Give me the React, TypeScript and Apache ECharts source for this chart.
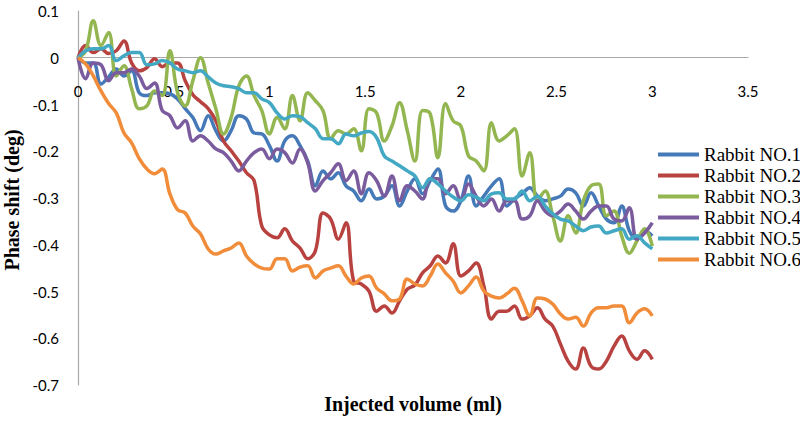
import React, { useEffect, useRef } from "react";
import * as echarts from "echarts";

const xValues = [
  0, 0.04, 0.08, 0.12, 0.16, 0.2, 0.24, 0.28, 0.32, 0.36,
  0.4, 0.44, 0.48, 0.52, 0.56, 0.6, 0.64, 0.68, 0.72, 0.76,
  0.8, 0.84, 0.88, 0.92, 0.96, 1.0, 1.04, 1.08, 1.12, 1.16,
  1.2, 1.24, 1.28, 1.32, 1.36, 1.4, 1.44, 1.48, 1.52, 1.56,
  1.6, 1.64, 1.68, 1.72, 1.76, 1.8, 1.84, 1.88, 1.92, 1.96,
  2.0, 2.04, 2.08, 2.12, 2.16, 2.2, 2.24, 2.28, 2.32, 2.36,
  2.4, 2.44, 2.48, 2.52, 2.56, 2.6, 2.64, 2.68, 2.72, 2.76,
  2.8, 2.84, 2.88, 2.92, 2.96, 3.0,
];

const rabbit1 = [
  0, -0.011, -0.011, -0.056, -0.041, -0.024, -0.039, -0.028, -0.075, -0.081,
  -0.075, -0.075, -0.077, -0.088, -0.109, -0.128, -0.156, -0.124, -0.156, -0.178,
  -0.156, -0.124, -0.131, -0.161, -0.163, -0.188, -0.221, -0.178, -0.167, -0.188,
  -0.221, -0.274, -0.242, -0.259, -0.246, -0.274, -0.285, -0.306, -0.281, -0.302,
  -0.296, -0.274, -0.317, -0.285, -0.259, -0.291, -0.263, -0.238, -0.317, -0.328,
  -0.306, -0.253, -0.317, -0.296, -0.274, -0.259, -0.317, -0.302, -0.291, -0.278,
  -0.296, -0.306, -0.302, -0.296, -0.281, -0.289, -0.317, -0.289, -0.317, -0.345,
  -0.353, -0.317, -0.37, -0.388, -0.37, -0.381,
];

const rabbit2 = [
  0, 0.026, 0.011, 0.019, 0.009, 0.015, 0.036, -0.011, -0.028, -0.021,
  -0.002, -0.019, -0.011, -0.011, -0.049, -0.079, -0.094, -0.109, -0.135, -0.178,
  -0.199, -0.221, -0.246, -0.263, -0.36, -0.379, -0.385, -0.366, -0.392, -0.407,
  -0.43, -0.413, -0.332, -0.345, -0.388, -0.353, -0.478, -0.484, -0.499, -0.542,
  -0.531, -0.546, -0.52, -0.495, -0.486, -0.46, -0.445, -0.424, -0.439, -0.398,
  -0.467, -0.456, -0.439, -0.488, -0.559, -0.542, -0.542, -0.531, -0.559, -0.552,
  -0.535, -0.559, -0.574, -0.612, -0.649, -0.666, -0.621, -0.66, -0.666, -0.649,
  -0.617, -0.595, -0.627, -0.645, -0.627, -0.645,
];

const rabbit3 = [
  0, 0.015, 0.079, 0.026, 0.054, -0.039, -0.017, -0.066, -0.109, -0.103,
  -0.071, -0.081, 0.015, -0.075, -0.103, -0.049, 0, -0.054, -0.109, -0.163,
  -0.128, -0.06, -0.039, -0.081, -0.113, -0.163, -0.128, -0.152, -0.081, -0.135,
  -0.075, -0.092, -0.113, -0.173, -0.156, -0.163, -0.152, -0.199, -0.109, -0.118,
  -0.178, -0.146, -0.096, -0.156, -0.221, -0.113, -0.12, -0.214, -0.098, -0.135,
  -0.146, -0.21, -0.221, -0.242, -0.139, -0.178, -0.167, -0.152, -0.253, -0.203,
  -0.306, -0.285, -0.338, -0.392, -0.338, -0.375, -0.306, -0.274, -0.27, -0.338,
  -0.328, -0.381, -0.418, -0.392, -0.366, -0.403,
];

const rabbit4 = [
  0, -0.045, -0.011, -0.015, -0.049, -0.032, -0.032, -0.024, -0.039, -0.066,
  -0.054, -0.113, -0.124, -0.15, -0.135, -0.178, -0.167, -0.178, -0.195, -0.203,
  -0.221, -0.242, -0.221, -0.203, -0.195, -0.216, -0.195, -0.203, -0.225, -0.195,
  -0.225, -0.285, -0.263, -0.246, -0.227, -0.263, -0.242, -0.291, -0.246, -0.263,
  -0.296, -0.253, -0.306, -0.274, -0.285, -0.302, -0.259, -0.259, -0.291, -0.274,
  -0.306, -0.27, -0.296, -0.317, -0.302, -0.328, -0.306, -0.306, -0.345, -0.338,
  -0.306, -0.328, -0.338, -0.328, -0.313, -0.328, -0.345, -0.328, -0.317, -0.317,
  -0.345, -0.349, -0.321, -0.388, -0.375, -0.353,
];

const rabbit5 = [
  0, 0.015, 0.019, 0.019, 0.026, -0.006, 0.004, 0.011, 0.011, -0.015,
  -0.013, -0.006, -0.011, -0.024, -0.028, -0.032, -0.028, -0.041, -0.054, -0.06,
  -0.062, -0.066, -0.075, -0.075, -0.088, -0.096, -0.118, -0.131, -0.124, -0.126,
  -0.139, -0.152, -0.173, -0.173, -0.184, -0.163, -0.167, -0.161, -0.158, -0.171,
  -0.21, -0.221, -0.231, -0.242, -0.253, -0.278, -0.259, -0.27, -0.285, -0.298,
  -0.306, -0.293, -0.298, -0.306, -0.291, -0.289, -0.302, -0.302, -0.285, -0.306,
  -0.296, -0.317, -0.334, -0.345, -0.349, -0.36, -0.37, -0.362, -0.36, -0.375,
  -0.37, -0.366, -0.388, -0.381, -0.396, -0.409,
];

const rabbit6 = [
  0, -0.013, -0.039, -0.071, -0.098, -0.118, -0.161, -0.182, -0.216, -0.238,
  -0.248, -0.238, -0.291, -0.325, -0.332, -0.36, -0.377, -0.409, -0.42, -0.413,
  -0.407, -0.396, -0.424, -0.441, -0.45, -0.452, -0.43, -0.43, -0.456, -0.448,
  -0.445, -0.471, -0.456, -0.45, -0.445, -0.467, -0.484, -0.471, -0.467, -0.493,
  -0.505, -0.52, -0.516, -0.473, -0.484, -0.488, -0.467, -0.441, -0.46, -0.478,
  -0.503, -0.488, -0.469, -0.499, -0.51, -0.514, -0.505, -0.493, -0.52, -0.552,
  -0.514, -0.516, -0.527, -0.548, -0.559, -0.555, -0.574, -0.546, -0.535, -0.535,
  -0.531, -0.531, -0.567, -0.546, -0.537, -0.552,
];

const seriesNames = [
  "Rabbit NO.1",
  "Rabbit NO.2",
  "Rabbit NO.3",
  "Rabbit NO.4",
  "Rabbit NO.5",
  "Rabbit NO.6",
];
const seriesValues = [rabbit1, rabbit2, rabbit3, rabbit4, rabbit5, rabbit6];
const seriesColors = ["#4679B8", "#B8423F", "#93B650", "#7A5C9E", "#43A8C3", "#F08C3A"];

const xTitle = "Injected volume (ml)";
const yTitle = "Phase shift (deg)";

const SERIF = "'Liberation Serif', 'Times New Roman', serif";

export default function App() {
  const ref = useRef<HTMLDivElement>(null);

  useEffect(() => {
    document.body.style.margin = "0";
    if (!ref.current) return;
    const chart = echarts.init(ref.current, undefined, { renderer: "svg" });
    const fmt = (v: number) => String(Number(v.toFixed(1)));
    const gridTop = 11;
    const gridBottom = 37;
    const plotH = 422 - gridTop - gridBottom;
    const yMin = -0.7;
    const yMax = 0.1;
    const zeroOffset = -(plotH * (0 - yMin)) / (yMax - yMin);
    chart.setOption({
      animation: false,
      backgroundColor: "#ffffff",
      grid: { left: 78, right: 52, top: gridTop, bottom: gridBottom },
      xAxis: {
        type: "value",
        position: "bottom",
        min: 0,
        max: 3.5,
        interval: 0.5,
        offset: zeroOffset,
        axisLine: { onZero: false, lineStyle: { color: "#A8A8A8", width: 1.2 } },
        axisTick: { show: false },
        splitLine: { show: false },
        axisLabel: {
          margin: 26,
          fontFamily: "Lato",
          fontSize: 15,
          color: "#000",
          formatter: fmt,
        },
      },
      yAxis: {
        type: "value",
        min: yMin,
        max: yMax,
        interval: 0.1,
        axisLine: { show: true, onZero: false, lineStyle: { color: "#A8A8A8", width: 1.2 } },
        axisTick: { show: false },
        splitLine: { show: false },
        axisLabel: {
          margin: 19,
          fontFamily: "Lato",
          fontSize: 15,
          color: "#000",
          formatter: fmt,
        },
      },
      legend: {
        orient: "vertical",
        left: 653,
        top: 140,
        icon: "rect",
        itemWidth: 41,
        itemHeight: 4,
        itemGap: 2,
        textStyle: { fontFamily: SERIF, fontSize: 19, color: "#000" },
        data: seriesNames.map((name) => ({ name, textStyle: { fontFamily: SERIF } })),
      },
      graphic: [
        {
          type: "text",
          x: 413,
          y: 404,
          style: {
            text: xTitle,
            fontFamily: SERIF,
            fontWeight: "bold",
            fontSize: 20,
            fill: "#000",
            align: "center",
            verticalAlign: "middle",
          },
        },
        {
          type: "text",
          x: 12,
          y: 200,
          rotation: Math.PI / 2,
          style: {
            text: yTitle,
            fontFamily: SERIF,
            fontWeight: "bold",
            fontSize: 20,
            fill: "#000",
            align: "center",
            verticalAlign: "middle",
          },
        },
      ],
      series: seriesNames.map((name, k) => ({
        name,
        type: "line",
        smooth: 0.4,
        symbol: "none",
        showSymbol: false,
        lineStyle: { width: 3.5, color: seriesColors[k] },
        itemStyle: { color: seriesColors[k] },
        data: xValues.map((x, i) => [x, seriesValues[k][i]]),
      })),
    });
    return () => chart.dispose();
  }, []);

  return (
    <div
      ref={ref}
      style={{ position: "fixed", left: 0, top: 0, width: 800, height: 422, background: "#fff" }}
    />
  );
}
